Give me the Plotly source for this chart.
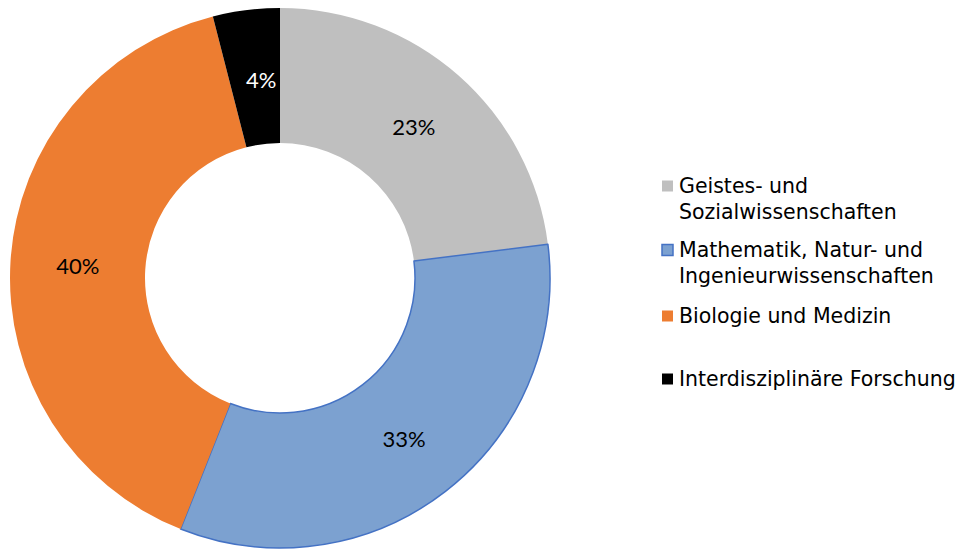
import math
import plotly.graph_objects as go

W, H = 972, 549

labels = ["Geistes- und Sozialwissenschaften",
          "Mathematik, Natur- und Ingenieurwissenschaften",
          "Biologie und Medizin",
          "Interdisziplinäre Forschung"]
legend_lines = [["Geistes- und", "Sozialwissenschaften"],
                ["Mathematik, Natur- und", "Ingenieurwissenschaften"],
                ["Biologie und Medizin"],
                ["Interdisziplinäre Forschung"]]
values = [23, 33, 40, 4]
colors = ["#BFBFBF", "#7CA1D0", "#ED7D31", "#000000"]
border_colors = ["#BFBFBF", "#4472C4", "#ED7D31", "#000000"]
border_widths = [0, 1.5, 0, 0]
text_colors = ["#000000", "#000000", "#000000", "#FFFFFF"]

# layout (pixels)
cx, cy, R = 280, 278, 270
hole = 0.5
legend_x_marker = 662
legend_x_text = 677
legend_line_y = [[186, 212], [250, 276], [316], [379]]

# slices whose label plotly would push to the edge: label drawn as annotation at mid ring
narrow = [v / sum(values) < 0.06 for v in values]
templates = ["" if n else "%{percent:.0%}" for n in narrow]

fig = go.Figure()
fig.add_trace(go.Pie(
    labels=labels, values=values, sort=False, direction="clockwise", rotation=0,
    hole=hole,
    marker=dict(colors=colors, line=dict(color=border_colors, width=border_widths)),
    texttemplate=templates,
    textposition="inside", insidetextorientation="horizontal",
    textfont=dict(family="Lato", size=22, color=text_colors),
    domain=dict(x=[(cx - R) / W, (cx + R) / W], y=[(H - cy - R) / H, (H - cy + R) / H]),
    showlegend=False,
))

shapes = []
annotations = []
total = sum(values)
cum = 0
for i, v in enumerate(values):
    mid = (cum + v / 2) / total
    cum += v
    if narrow[i]:
        ang = 2 * math.pi * mid
        rm = R * (1 + hole) / 2
        px = cx + rm * math.sin(ang) + 6
        py = cy - rm * math.cos(ang) + 2
        annotations.append(dict(text=f"{round(100 * v / total)}%", xref="paper", yref="paper",
                                x=px / W, y=(H - py) / H, xanchor="center", yanchor="middle",
                                showarrow=False,
                                font=dict(family="Lato", size=22, color=text_colors[i])))

for i, lines in enumerate(legend_lines):
    y0 = legend_line_y[i][0]
    shapes.append(dict(type="rect", xref="paper", yref="paper",
                       x0=legend_x_marker / W, x1=(legend_x_marker + 11) / W,
                       y0=(H - (y0 - 5.5)) / H, y1=(H - (y0 + 5.5)) / H,
                       fillcolor=colors[i], line=dict(color=border_colors[i], width=1.5 if i == 1 else 0)))
    for j, line in enumerate(lines):
        annotations.append(dict(text=line, xref="paper", yref="paper",
                                x=legend_x_text / W, y=(H - legend_line_y[i][j]) / H,
                                xanchor="left", yanchor="middle", showarrow=False,
                                font=dict(family="DejaVu Sans", size=20.5, color="#000000")))

fig.update_layout(width=W, height=H, margin=dict(l=0, r=0, t=0, b=0),
                  paper_bgcolor="white", plot_bgcolor="white",
                  shapes=shapes, annotations=annotations)
fig.write_html("out.html", config={"displayModeBar": False},
               post_script="document.body.style.margin='0';document.body.style.overflow='hidden';")
